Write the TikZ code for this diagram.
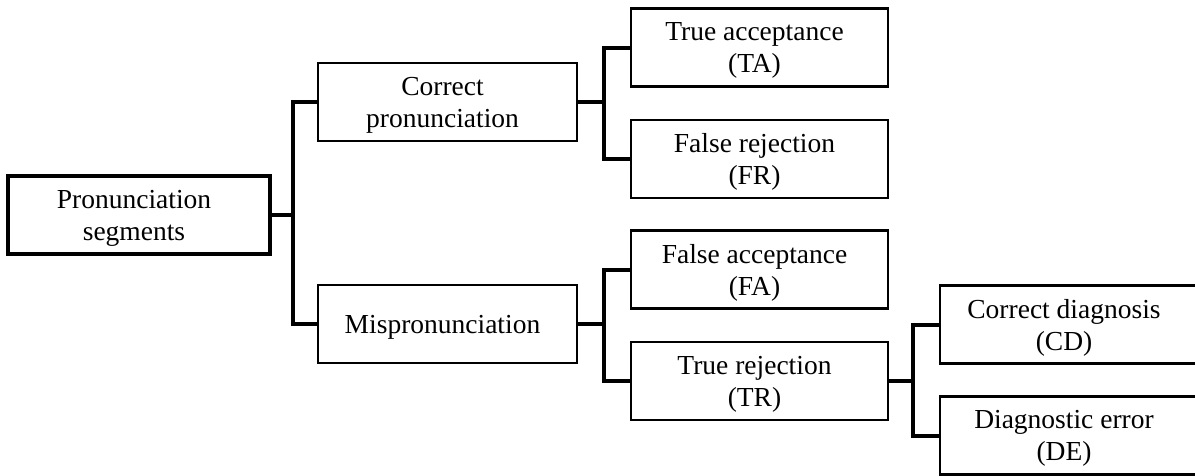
\documentclass[tikz,border=0pt]{standalone}
\usepackage{fontspec}
\setmainfont{Liberation Serif}
\begin{document}
\begin{tikzpicture}[x=1pt, y=-1pt,
  box/.style={draw, line width=2.6pt, minimum width=257pt, minimum height=78pt, inner sep=0pt},
  rootbox/.style={box, line width=3.8pt, minimum width=262pt},
  lbl/.style={font=\fontsize{27.5}{32}\selectfont, align=center, inner sep=0pt, xshift=-5pt, yshift=-3pt},
  conn/.style={line width=4pt, line join=miter}]
\useasboundingbox (0,0) rectangle (1195,475);
\clip (0,0) rectangle (1195,475);

% boxes
\node[rootbox, label={[lbl]center:{Pronunciation\\segments}}] (ps) at (139,215) {};
\node[box, minimum width=259pt, label={[lbl]center:{Correct\\pronunciation}}] (cp) at (447.5,102) {};
\node[box, minimum width=259pt, label={[lbl]center:{Mispronunciation}}] (mp) at (447.5,324) {};
\node[box, label={[lbl]center:{True acceptance\\(TA)}}] (ta) at (759.5,47.5) {};
\node[box, label={[lbl]center:{False rejection\\(FR)}}] (fr) at (759.5,159) {};
\node[box, label={[lbl]center:{False acceptance\\(FA)}}] (fa) at (759.5,269.5) {};
\node[box, label={[lbl]center:{True rejection\\(TR)}}] (tr) at (759.5,381) {};
\node[box, minimum width=258pt, label={[lbl]center:{Correct diagnosis\\(CD)}}] (cd) at (1069,324.5) {};
\node[box, minimum width=258pt, label={[lbl]center:{Diagnostic error\\(DE)}}] (de) at (1069,435.5) {};

% branch junctions
\coordinate (j1) at (293,215);
\coordinate (j2) at (604,102);
\coordinate (j3) at (604,324);
\coordinate (j4) at (913,381);

% connectors
\draw[conn] (ps.east) -- (j1);
\draw[conn] (cp.west) -| (j1) |- (mp.west);
\draw[conn] (cp.east) -- (j2);
\draw[conn] (ta.west) -| (j2) |- (fr.west);
\draw[conn] (mp.east) -- (j3);
\draw[conn] (fa.west) -| (j3) |- (tr.west);
\draw[conn] (tr.east) -- (j4);
\draw[conn] (cd.west) -| (j4) |- (de.west);
\end{tikzpicture}
\end{document}
